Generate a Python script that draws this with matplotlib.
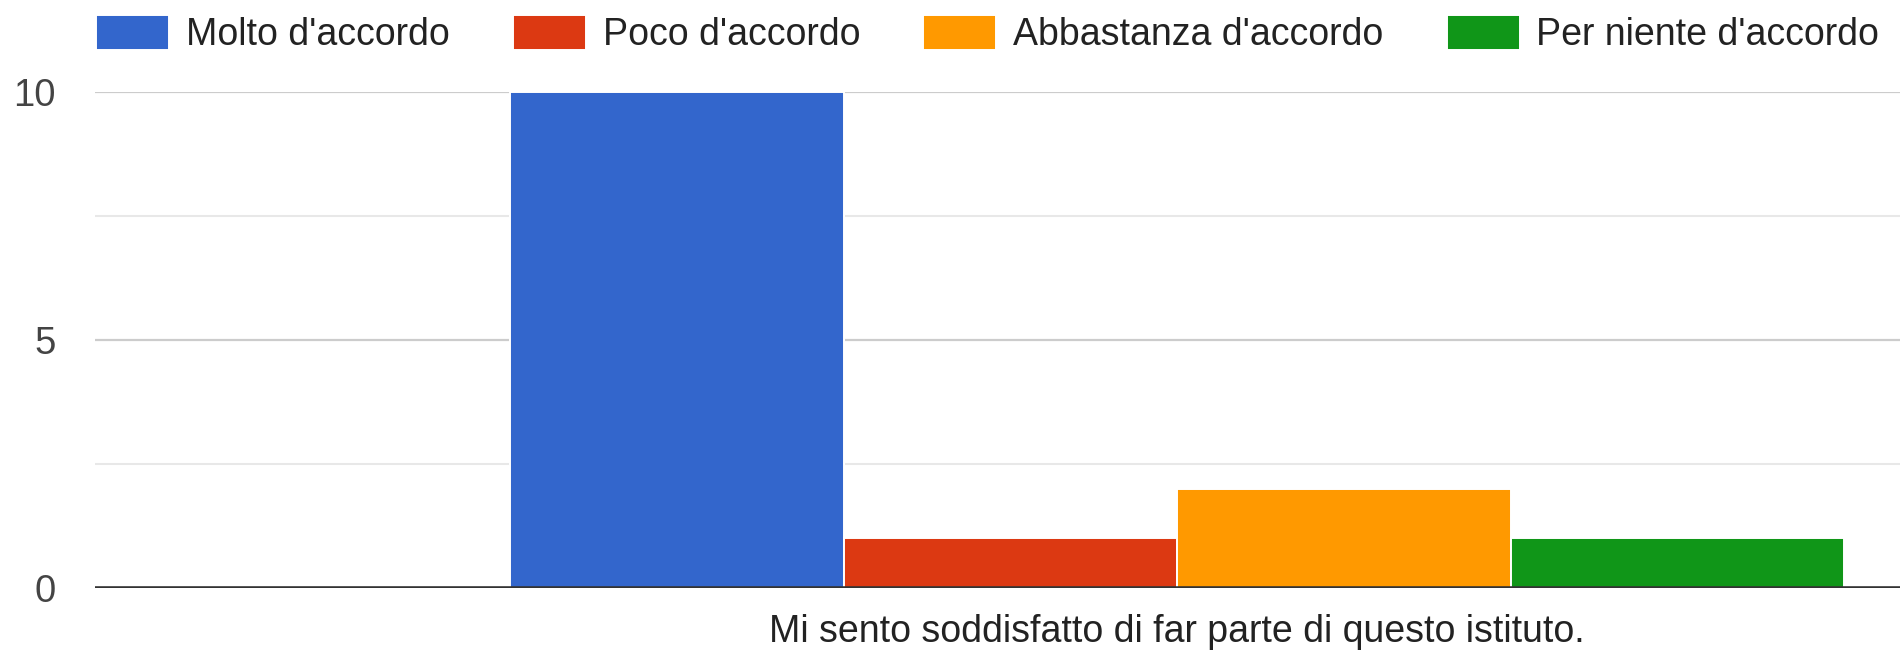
import numpy as np
import matplotlib.pyplot as plt

# data
question = "Mi sento soddisfatto di far parte di questo istituto."
answers = ["Molto d'accordo", "Poco d'accordo", "Abbastanza d'accordo", "Per niente d'accordo"]
counts = [10, 1, 2, 1]
colors = ["#3366cc", "#dc3912", "#ff9900", "#109618"]
y_ticks = [0, 5, 10]

plt.rcParams['font.family'] = ['Liberation Sans', 'DejaVu Sans']

W, H = 1900, 652
fig = plt.figure(figsize=(W / 100, H / 100), dpi=100)
ax = fig.add_axes([95 / W, (H - 588) / H, (W - 95) / W, (588 - 92) / H])

n = len(answers)
offsets = np.arange(n) - (n - 1) / 2.0
for off, val, col, lab in zip(offsets, counts, colors, answers):
    ax.bar(0 + off, val, width=1.0, color=col, edgecolor="white",
           linewidth=1.4, label=lab, zorder=3)

# grid
for y in [2.5, 7.5]:
    ax.axhline(y, color="#e8e8e8", linewidth=1.5, zorder=1)
for y in y_ticks[1:]:
    ax.axhline(y, color="#cccccc", linewidth=1.6, zorder=1)
ax.axhline(0, color="#333333", linewidth=2.6, zorder=4)

# x range so the group sits where it does in the picture
px_per_unit = (1844 - 510) / 4.0
center_px = (510 + 1844) / 2.0
ax.set_xlim(-(center_px - 95) / px_per_unit, (W - center_px) / px_per_unit)
ax.set_ylim(0, 10)

ax.set_yticks(y_ticks)
ax.set_yticklabels([str(t) for t in y_ticks], fontsize=27.5, color="#444444")
ax.set_xticks([0])
ax.set_xticklabels([question], fontsize=27, color="#222222")
ax.tick_params(axis="y", length=0, pad=28)
ax.tick_params(axis="x", length=0, pad=19)
for s in ax.spines.values():
    s.set_visible(False)

leg = fig.legend(loc="upper left", bbox_to_anchor=(96 / W, 1 - 15 / H), ncol=4,
                 frameon=False, fontsize=27, borderpad=0, borderaxespad=0,
                 handlelength=1.95, handleheight=1.06, handletextpad=0.45,
                 columnspacing=1.68)
for t in leg.get_texts():
    t.set_color("#222222")

fig.savefig("out.png", dpi=100)
